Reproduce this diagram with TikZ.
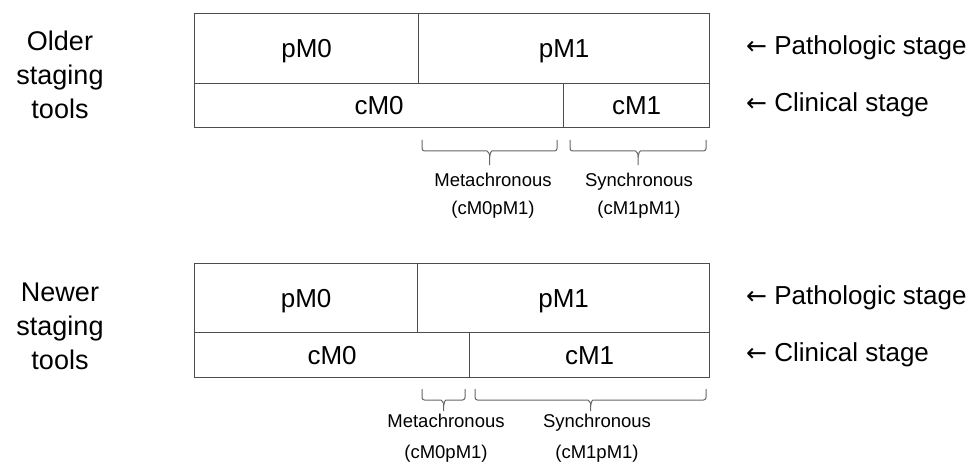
\documentclass[tikz,border=0pt]{standalone}
\usepackage{fontspec}
\setmainfont{Liberation Sans}
\newfontfamily\arrowfont{DejaVu Sans}
\newcommand{\larr}{{\arrowfont\fontsize{25}{30}\selectfont ←}}
\newcommand{\mybrace}[4]{%
  \pgfmathsetmacro{\bm}{(#1+#2)/2}%
  \draw[bracestyle] (#1,#3) -- (#1,#3+11) -- (\bm-5,#3+11) to[out=0,in=90] (\bm,#3+17) -- (\bm,#3+#4);
  \draw[bracestyle] (#2,#3) -- (#2,#3+11) -- (\bm+5,#3+11) to[out=180,in=90] (\bm,#3+17);
}
\begin{document}
\begin{tikzpicture}[x=1pt,y=-1pt,
  cell/.style={draw=black!70, line width=1.2pt, anchor=north west, inner sep=0pt,
    font=\fontsize{26}{30}\selectfont, text height=18.6pt, text depth=0pt},
  side/.style={font=\fontsize{27}{34}\selectfont, align=center},
  stagelbl/.style={font=\fontsize{26}{30}\selectfont, anchor=west, inner sep=0pt},
  smalllbl/.style={font=\fontsize{18.5}{28}\selectfont, align=center, anchor=north, inner sep=0pt},
  bracestyle/.style={draw=black!60, line width=1pt, rounded corners=2.5pt}]
\useasboundingbox (0,0) rectangle (969,476);
% ---------- Older ----------
\node[side] (older) at (60,75) {Older\\staging\\tools};
\node[cell, minimum width=224pt, minimum height=70pt] (tpM0) at (194,13) {pM0};
\node[cell, minimum width=291pt, minimum height=70pt] (tpM1) at (418,13) {pM1};
\node[cell, minimum width=369pt, minimum height=44pt] (tcM0) at (194,83) {cM0};
\node[cell, minimum width=146pt, minimum height=44pt] (tcM1) at (563,83) {cM1};
\node[stagelbl] (tpath) at (746,48) {\larr\ Pathologic stage};
\node[stagelbl] (tclin) at (746,105) {\larr\ Clinical stage};
\mybrace{422}{557}{140}{25}
\mybrace{570}{706}{140}{25}
\node[smalllbl] (tmeta) at (493,173) {Metachronous\\(cM0pM1)};
\node[smalllbl] (tsync) at (639,173) {Synchronous\\(cM1pM1)};
% ---------- Newer ----------
\node[side] (newer) at (60,326) {Newer\\staging\\tools};
\node[cell, minimum width=223pt, minimum height=69pt] (bpM0) at (194,263) {pM0};
\node[cell, minimum width=292pt, minimum height=69pt] (bpM1) at (417,263) {pM1};
\node[cell, minimum width=275pt, minimum height=45pt] (bcM0) at (194,332) {cM0};
\node[cell, minimum width=240pt, minimum height=45pt] (bcM1) at (469,332) {cM1};
\node[stagelbl] (bpath) at (746,298) {\larr\ Pathologic stage};
\node[stagelbl] (bclin) at (746,355) {\larr\ Clinical stage};
\mybrace{422}{465}{389}{22}
\mybrace{475}{706}{389}{22}
\node[smalllbl, font=\fontsize{18.5}{31}\selectfont] (bmeta) at (446,414) {Metachronous\\(cM0pM1)};
\node[smalllbl, font=\fontsize{18.5}{31}\selectfont] (bsync) at (597,414) {Synchronous\\(cM1pM1)};
\end{tikzpicture}
\end{document}
